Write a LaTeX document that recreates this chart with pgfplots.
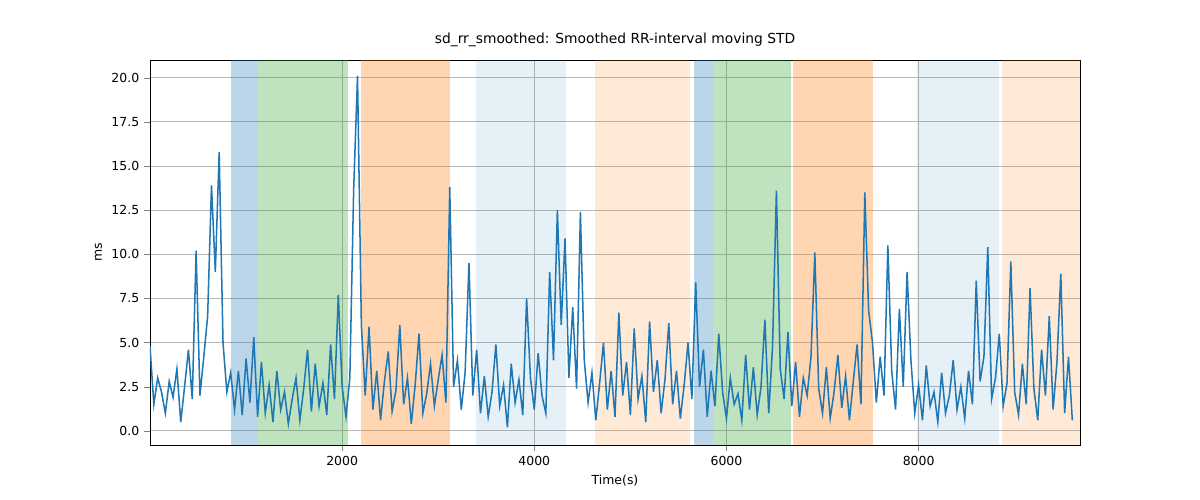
\documentclass[border=0pt]{standalone}
\usepackage{pgfplots}
\pgfplotsset{compat=1.18}
\usepackage{pgfplotstable}
\usepackage{fontspec}
\setmainfont{DejaVu Sans}
\definecolor{tb}{HTML}{1F77B4}
\definecolor{tg}{HTML}{2CA02C}
\definecolor{to}{HTML}{FF7F0E}
\pgfplotstableread{
y
4.8
1.5
3.0
2.2
1.0
2.8
1.9
3.5
0.5
2.5
4.6
1.8
10.2
2.0
4.2
6.5
13.9
9.0
15.8
5.0
2.2
3.3
1.2
3.4
0.9
4.1
1.6
5.3
0.8
3.9
1.0
2.6
0.5
3.4
1.2
2.2
0.4
1.8
3.0
0.6
2.4
4.6
1.1
3.8
1.4
2.7
0.9
4.9
1.8
7.7
2.5
0.8
3.0
13.7
20.1
6.0
2.0
5.9
1.2
3.4
0.6
2.8
4.5
1.1
2.3
6.0
1.5
3.0
0.4
2.6
5.5
1.0
2.1
3.8
1.4
2.9
4.3
1.6
13.8
2.5
4.0
1.2
3.3
9.5
2.0
4.6
1.0
3.1
0.8
2.2
4.9
1.4
2.6
0.2
3.8
1.6
2.9
0.9
7.5
3.0
1.2
4.4
2.0
1.0
9.0
4.0
12.5
6.0
10.9
3.0
7.0
2.4
12.4
4.0
1.6
3.3
0.6
2.7
5.0
1.2
3.4
0.8
6.7
2.0
3.9
0.9
5.8
1.8
3.1
0.5
6.2
2.2
4.0
1.0
2.9
6.1
1.5
3.4
0.7
2.6
5.0
1.8
8.4
2.5
4.6
0.8
3.4
1.4
5.5
2.2
0.7
3.0
1.5
2.1
0.6
4.3
1.2
3.6
0.9
2.5
6.3
1.0
4.8
13.6
3.5
1.8
5.6
1.4
3.9
0.8
3.0
2.0
4.2
10.1
2.4
1.0
3.6
0.7
2.2
4.3
1.3
3.1
0.6
2.8
4.9
1.5
13.5
6.8
5.0
1.6
4.2
2.0
10.5
3.4
1.2
6.9
2.5
9.0
4.0
1.0
2.6
0.6
3.7
1.4
2.2
0.5
3.3
1.0
2.0
4.0
1.2
2.5
0.7
3.4
1.5
8.5
2.8
4.2
10.4
1.8
3.0
5.5
1.4
2.7
9.6
2.2
0.9
3.8
1.5
8.1
2.4
0.6
4.6
2.0
6.5
1.2
3.9
8.9
1.0
4.2
0.6
}\data
\begin{document}
\begin{tikzpicture}
\path (-1.5in,-0.55in) rectangle (10.5in,4.45in);
\begin{axis}[at={(0,0)},anchor=south west,scale only axis,width=9.3in,height=3.85in,
xmin=0,xmax=9680,ymin=-0.8,ymax=21,
xtick={2000,4000,6000,8000},ytick={0,2.5,...,20},
xticklabel style={/pgf/number format/.cd,1000 sep={}},
yticklabel style={/pgf/number format/.cd,fixed,fixed zerofill,precision=1},
/pgf/number format/assume math mode=true,
grid=major,grid style={gray!55,line width=0.6pt},tick align=outside,
xtick pos=bottom,ytick pos=left,
xlabel={Time(s)},ylabel={ms},
title={sd\_rr\_smoothed: Smoothed RR-interval moving STD},
tick label style={font=\small},label style={font=\small},title style={font=\normalsize}]
\fill[tb,opacity=0.3] (axis cs:844,-0.8) rectangle (axis cs:1125,21);
\fill[tg,opacity=0.3] (axis cs:1125,-0.8) rectangle (axis cs:2063,21);
\fill[to,opacity=0.32] (axis cs:2198,-0.8) rectangle (axis cs:3125,21);
\fill[tb,opacity=0.11] (axis cs:3396,-0.8) rectangle (axis cs:4333,21);
\fill[to,opacity=0.16] (axis cs:4635,-0.8) rectangle (axis cs:5625,21);
\fill[tb,opacity=0.3] (axis cs:5667,-0.8) rectangle (axis cs:5865,21);
\fill[tg,opacity=0.3] (axis cs:5865,-0.8) rectangle (axis cs:6667,21);
\fill[to,opacity=0.32] (axis cs:6688,-0.8) rectangle (axis cs:7521,21);
\fill[tb,opacity=0.11] (axis cs:7979,-0.8) rectangle (axis cs:8833,21);
\fill[to,opacity=0.16] (axis cs:8865,-0.8) rectangle (axis cs:9680,21);
\addplot[tb,line width=1.1pt,no marks] table[x expr=\coordindex*40,y=y]{\data};
\end{axis}
\end{tikzpicture}
\end{document}
